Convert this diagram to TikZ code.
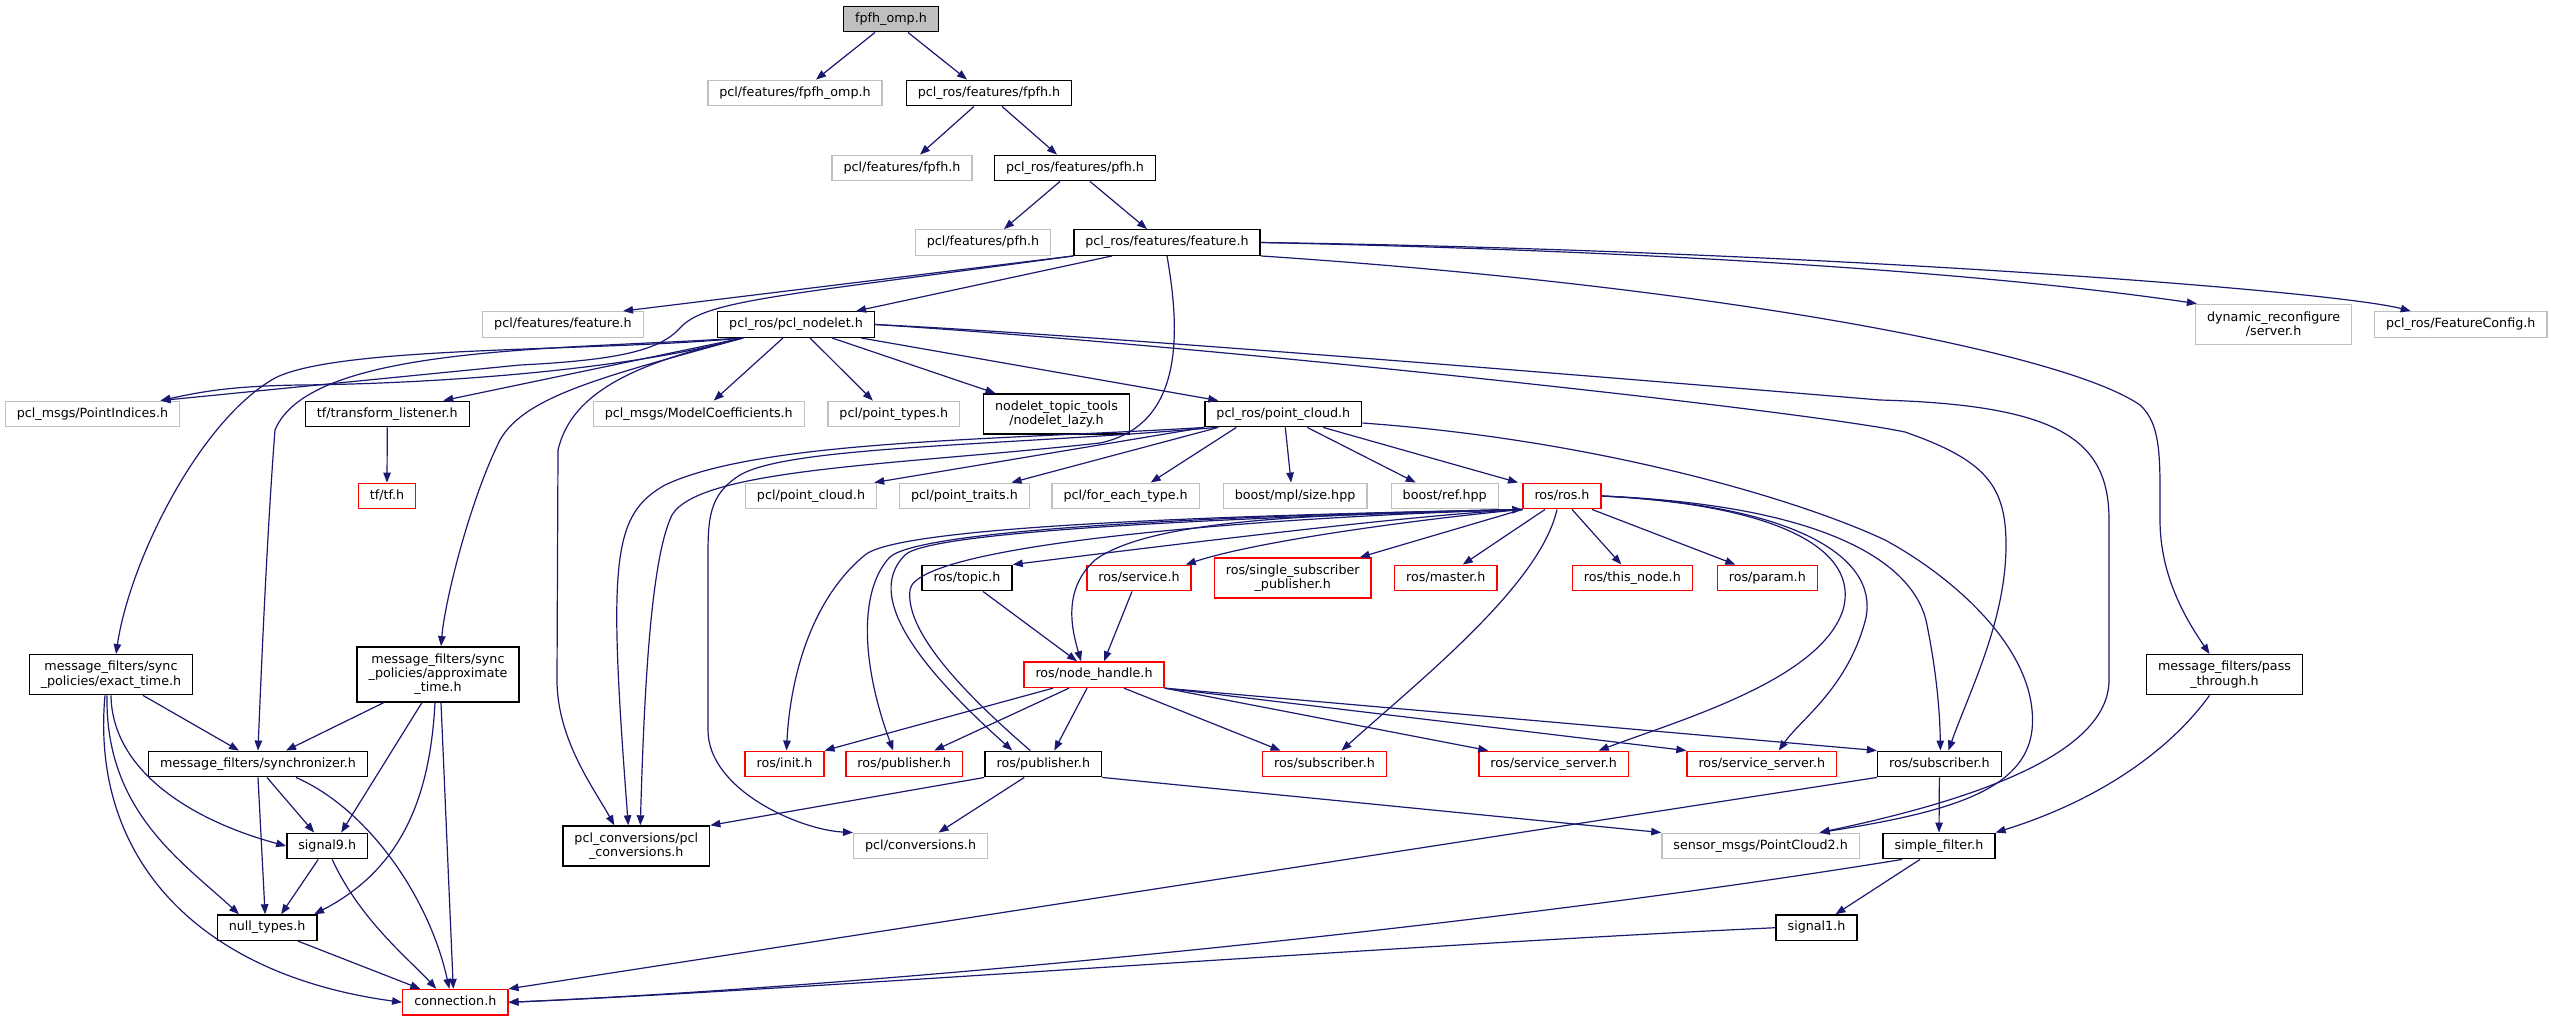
\documentclass[tikz,border=0pt]{standalone}
\usepackage{fontspec}
\setmainfont{DejaVu Sans}
\usetikzlibrary{arrows.meta}
\definecolor{edgec}{HTML}{191970}
\definecolor{grybd}{HTML}{BFBFBF}
\definecolor{rootfill}{HTML}{BFBFBF}
\begin{document}
\begin{tikzpicture}[x=1pt,y=-1pt,
  nb/.style={draw, rectangle, fill=white, line width=1.4pt, inner xsep=11.5pt, inner ysep=0pt,
    minimum height=25.5pt, align=center, font=\fontsize{12.7}{14.3}\selectfont,
    text height=9.4pt, text depth=3pt},
  blkbox/.style={nb, draw=black},
  grybox/.style={nb, draw=grybd},
  redbox/.style={nb, draw=red},
  rootbox/.style={nb, draw=black, fill=rootfill},
  twol/.style={text height=, text depth=, minimum height=40pt},
  threel/.style={text height=, text depth=, minimum height=55pt},
  dep/.style={draw=edgec, line width=1.2pt, -{Triangle[length=10pt,width=7.5pt]}},
]
\useasboundingbox (0,0) rectangle (2551,1021);

% nodes
\node[rootbox] (root) at (891,19) {fpfh\_omp.h};
\node[grybox] (pfomp) at (795,93) {pcl/features/fpfh\_omp.h};
\node[blkbox] (rfpfh) at (989,93) {pcl\_ros/features/fpfh.h};
\node[grybox] (pfpfh) at (902,168) {pcl/features/fpfh.h};
\node[blkbox] (rpfh) at (1075,168) {pcl\_ros/features/pfh.h};
\node[grybox] (ppfh) at (983,242.5) {pcl/features/pfh.h};
\node[blkbox] (feat) at (1167,242.5) {pcl\_ros/features/feature.h};
\node[grybox] (pfeat) at (563,324.5) {pcl/features/feature.h};
\node[blkbox] (nodelet) at (796,324.5) {pcl\_ros/pcl\_nodelet.h};
\node[grybox,twol] (dyn) at (2273.6,324.3) {dynamic\_reconfigure\\/server.h};
\node[grybox] (fconf) at (2460.7,324.5) {pcl\_ros/FeatureConfig.h};
\node[grybox] (pind) at (92.5,414) {pcl\_msgs/PointIndices.h};
\node[blkbox] (tfl) at (387.3,414) {tf/transform\_listener.h};
\node[redbox] (tf) at (387,496) {tf/tf.h};
\node[grybox] (mcoef) at (698.8,414) {pcl\_msgs/ModelCoefficients.h};
\node[grybox] (ptypes) at (893.8,414) {pcl/point\_types.h};
\node[blkbox,twol] (lazy) at (1056.5,414) {nodelet\_topic\_tools\\/nodelet\_lazy.h};
\node[blkbox] (pcr) at (1283.3,414) {pcl\_ros/point\_cloud.h};
\node[grybox] (pcpc) at (811,496) {pcl/point\_cloud.h};
\node[grybox] (ptraits) at (964.5,496) {pcl/point\_traits.h};
\node[grybox] (foreach) at (1125.7,496) {pcl/for\_each\_type.h};
\node[grybox] (mpl) at (1295.1,496) {boost/mpl/size.hpp};
\node[grybox] (bref) at (1444.7,496) {boost/ref.hpp};
\node[redbox] (ros) at (1562,496) {ros/ros.h};
\node[blkbox] (topic) at (967,578) {ros/topic.h};
\node[redbox] (service) at (1139,578) {ros/service.h};
\node[redbox,twol] (ssp) at (1292.7,578) {ros/single\_subscriber\\\_publisher.h};
\node[redbox] (master) at (1445.8,578) {ros/master.h};
\node[redbox] (thisnode) at (1632.3,578) {ros/this\_node.h};
\node[redbox] (param) at (1767.3,578) {ros/param.h};
\node[blkbox,twol] (exact) at (111,674.7) {message\_filters/sync\\\_policies/exact\_time.h};
\node[blkbox,threel] (approx) at (438,674.3) {message\_filters/sync\\\_policies/approximate\\\_time.h};
\node[redbox] (nh) at (1094,674.7) {ros/node\_handle.h};
\node[blkbox,twol] (pass) at (2224.5,674.7) {message\_filters/pass\\\_through.h};
\node[blkbox] (sync) at (258,764) {message\_filters/synchronizer.h};
\node[redbox] (init) at (784.5,764) {ros/init.h};
\node[redbox] (pubr) at (904.2,764) {ros/publisher.h};
\node[blkbox] (pubb) at (1043.3,764) {ros/publisher.h};
\node[redbox] (subr) at (1324.5,764) {ros/subscriber.h};
\node[redbox] (ss1) at (1553.7,764) {ros/service\_server.h};
\node[redbox] (ss2) at (1761.8,764) {ros/service\_server.h};
\node[blkbox] (subb) at (1939.4,764) {ros/subscriber.h};
\node[blkbox] (sig9) at (327.2,846) {signal9.h};
\node[blkbox,twol] (pclconv) at (636.3,846) {pcl\_conversions/pcl\\\_conversions.h};
\node[grybox] (pconv) at (920.6,846) {pcl/conversions.h};
\node[grybox] (pc2) at (1760.6,846) {sensor\_msgs/PointCloud2.h};
\node[blkbox] (sfilt) at (1939,846) {simple\_filter.h};
\node[blkbox] (nullt) at (267.1,927.7) {null\_types.h};
\node[blkbox] (sig1) at (1816.5,927.7) {signal1.h};
\node[redbox] (conn) at (455.3,1002.3) {connection.h};

% top chain
\draw[dep] ([xshift=-16]root.south) -- ([xshift=21]pfomp.north);
\draw[dep] ([xshift=17]root.south) -- ([xshift=-22]rfpfh.north);
\draw[dep] ([xshift=-15]rfpfh.south) -- ([xshift=18]pfpfh.north);
\draw[dep] ([xshift=13]rfpfh.south) -- ([xshift=-18]rpfh.north);
\draw[dep] ([xshift=-15]rpfh.south) -- ([xshift=21]ppfh.north);
\draw[dep] ([xshift=15]rpfh.south) -- ([xshift=-20]feat.north);

% feature.h
\draw[dep] (feat.south west) -- ([xshift=60]pfeat.north);
\draw[dep] ([xshift=-55]feat.south) -- ([xshift=60]nodelet.north);
\draw[dep] (feat.south west) .. controls (780,296) and (705,300) .. (680,328) .. controls (660,350) and (620,360) .. (520,365) -- ([xshift=68]pind.north);
\draw[dep] (feat.east) .. controls (1700,252) and (2000,275) .. ([xshift=2]dyn.north west);
\draw[dep] (feat.east) .. controls (1800,250) and (2330,290) .. ([xshift=-50]fconf.north);
\draw[dep] (feat.south east) .. controls (1700,285) and (2060,350) .. (2140,405) .. controls (2162,425) and (2160,460) .. (2160,520) .. controls (2160,580) and (2190,625) .. ([xshift=-15]pass.north);
\draw[dep] (feat.south) .. controls (1180,330) and (1185,425) .. (1100,443) .. controls (900,465) and (700,468) .. (672,515) .. controls (650,560) and (644,700) .. ([xshift=4]pclconv.north);

% pcl_nodelet.h
\draw[dep] ([xshift=-53]nodelet.south) .. controls (620,372) and (420,384) .. (300,385) .. controls (230,386) and (200,392) .. ([xshift=68]pind.north);
\draw[dep] ([xshift=-53]nodelet.south) -- ([xshift=56]tfl.north);
\draw[dep] ([xshift=-53]nodelet.south) .. controls (600,352) and (340,345) .. (275,378) .. controls (200,420) and (130,560) .. ([xshift=5]exact.north);
\draw[dep] ([xshift=-53]nodelet.south) .. controls (560,350) and (310,345) .. (275,430) .. controls (268,520) and (262,650) .. (sync.north);
\draw[dep] ([xshift=-53]nodelet.south) .. controls (610,375) and (525,395) .. (500,440) .. controls (470,500) and (445,600) .. ([xshift=3]approx.north);
\draw[dep] ([xshift=-53]nodelet.south) .. controls (640,362) and (572,390) .. (558,450) -- (557,680) .. controls (557,740) and (595,790) .. ([xshift=-22]pclconv.north);
\draw[dep] ([xshift=-13]nodelet.south) -- ([xshift=15]mcoef.north);
\draw[dep] ([xshift=14]nodelet.south) -- ([xshift=-21]ptypes.north);
\draw[dep] ([xshift=36]nodelet.south) -- ([xshift=-61]lazy.north);
\draw[dep] ([xshift=65]nodelet.south) -- ([xshift=-65]pcr.north);
\draw[dep] (nodelet.east) .. controls (1100,335) and (1700,385) .. (1880,400) .. controls (2060,405) and (2109,440) .. (2109,520) -- (2109,680) .. controls (2109,760) and (1950,805) .. ([xshift=59]pc2.north);
\draw[dep] (nodelet.east) .. controls (1200,345) and (1800,410) .. (1905,432) .. controls (1985,460) and (2006,485) .. (2006,545) .. controls (2006,620) and (1970,690) .. ([xshift=9]subb.north);

% pcl_ros/point_cloud.h
\draw[dep] (pcr.south west) -- ([xshift=-3]pcpc.north east);
\draw[dep] ([xshift=-65]pcr.south) -- ([xshift=47]ptraits.north);
\draw[dep] ([xshift=-47]pcr.south) -- ([xshift=25]foreach.north);
\draw[dep] ([xshift=2]pcr.south) -- ([xshift=-4]mpl.north);
\draw[dep] ([xshift=24]pcr.south) -- ([xshift=-29]bref.north);
\draw[dep] ([xshift=40]pcr.south) -- ([xshift=-44]ros.north);
\draw[dep] ([yshift=-9]pcr.east) .. controls (1600,440) and (1800,500) .. (1885,540) .. controls (1950,575) and (2040,650) .. (2032,730) .. controls (2025,790) and (1950,812) .. ([xshift=59]pc2.north);
\draw[dep] (pcr.south west) .. controls (1000,440) and (760,440) .. (665,485) .. controls (612,515) and (608,560) .. ([xshift=-8]pclconv.north);
\draw[dep] ([xshift=12]pcr.south west) .. controls (1000,446) and (790,446) .. (740,475) .. controls (708,495) and (708,520) .. (708,560) -- (708,730) .. controls (708,790) and (800,830) .. (pconv.north west);

% ros/ros.h
\draw[dep] (ros.south west) .. controls (1420,515) and (1250,535) .. (topic.north east);
\draw[dep] (ros.south west) .. controls (1430,518) and (1260,540) .. ([xshift=-6]service.north east);
\draw[dep] (ros.south west) -- ([xshift=-12]ssp.north east);
\draw[dep] ([xshift=-17]ros.south) -- ([xshift=17]master.north);
\draw[dep] ([xshift=10]ros.south) -- ([xshift=-11]thisnode.north);
\draw[dep] ([xshift=30]ros.south) -- ([xshift=-32]param.north);
\draw[dep] ([xshift=-5]ros.south) .. controls (1540,585) and (1420,680) .. ([xshift=17]subr.north);
\draw[dep] (ros.east) .. controls (1780,505) and (1860,550) .. (1843,610) .. controls (1820,680) and (1680,720) .. ([xshift=45]ss1.north);
\draw[dep] (ros.east) .. controls (1800,505) and (1885,560) .. (1864,625) .. controls (1845,690) and (1800,720) .. ([xshift=17]ss2.north);
\draw[dep] (ros.east) .. controls (1820,505) and (1915,560) .. (1927,625) .. controls (1938,680) and (1940,720) .. ([xshift=1]subb.north);
\draw[dep] (ros.south west) .. controls (1380,515) and (1160,512) .. (1095,560) .. controls (1062,590) and (1072,630) .. ([xshift=-13]nh.north);
\draw[dep] (ros.south west) .. controls (1250,515) and (900,525) .. (865,555) .. controls (810,600) and (790,680) .. ([xshift=2]init.north);
\draw[dep] (ros.south west) .. controls (1250,515) and (915,528) .. (889,558) .. controls (860,590) and (860,660) .. ([xshift=-11]pubr.north);
\draw[dep] (ros.south west) .. controls (1250,517) and (930,530) .. (905,555) .. controls (870,590) and (900,650) .. ([xshift=-31]pubb.north);
\draw[dep] ([xshift=-13]pubb.north) .. controls (960,690) and (905,630) .. (910,590) .. controls (915,545) and (1250,518) .. (ros.south west);

% node_handle etc.
\draw[dep] ([xshift=16]topic.south) -- ([xshift=-17]nh.north);
\draw[dep] ([xshift=-7]service.south) -- ([xshift=10]nh.north);
\draw[dep] ([xshift=-41]nh.south) -- (init.north east);
\draw[dep] ([xshift=-25]nh.south) -- ([xshift=30]pubr.north);
\draw[dep] ([xshift=-7]nh.south) -- ([xshift=11]pubb.north);
\draw[dep] ([xshift=30]nh.south) -- ([xshift=-44]subr.north);
\draw[dep] (nh.south east) -- ([xshift=10]ss1.north west);
\draw[dep] (nh.south east) -- (ss2.north west);
\draw[dep] (nh.south east) -- (subb.north west);

% publisher (black)
\draw[dep] (pubb.south west) -- (pclconv.north east);
\draw[dep] ([xshift=-19]pubb.south) -- ([xshift=18]pconv.north);
\draw[dep] (pubb.south east) -- (pc2.north west);

% message_filters right
\draw[dep] (subb.south) -- (sfilt.north);
\draw[dep] (subb.south west) -- (conn.north east);
\draw[dep] ([xshift=-37]sfilt.south) .. controls (1500,925) and (900,985) .. (conn.east);
\draw[dep] (sig1.west) .. controls (1400,945) and (800,990) .. (conn.east);
\draw[dep] ([xshift=-19]sfilt.south) -- ([xshift=19]sig1.north);
\draw[dep] ([xshift=-15]pass.south) .. controls (2170,750) and (2100,800) .. (sfilt.north east);

% message_filters left
\draw[dep] ([xshift=32]exact.south) -- ([xshift=-19]sync.north);
\draw[dep] (exact.south) .. controls (112,770) and (190,820) .. (sig9.west);
\draw[dep] ([xshift=-4]exact.south) .. controls (105,810) and (180,860) .. ([xshift=-28]nullt.north);
\draw[dep] ([xshift=-6]exact.south) .. controls (90,860) and (200,975) .. (conn.west);
\draw[dep] ([xshift=-54]approx.south) -- ([xshift=28]sync.north);
\draw[dep] ([xshift=-16]approx.south) -- ([xshift=14]sig9.north);
\draw[dep] ([xshift=-3]approx.south) .. controls (430,800) and (400,870) .. ([xshift=47]nullt.north);
\draw[dep] ([xshift=3]approx.south) -- ([xshift=-2]conn.north);
\draw[dep] ([xshift=9]sync.south) -- ([xshift=-13]sig9.north);
\draw[dep] (sync.south) -- ([xshift=-2]nullt.north);
\draw[dep] ([xshift=38]sync.south) .. controls (370,810) and (430,900) .. ([xshift=-6]conn.north);
\draw[dep] ([xshift=-9]sig9.south) -- ([xshift=14]nullt.north);
\draw[dep] ([xshift=5]sig9.south) .. controls (360,920) and (410,960) .. ([xshift=-19]conn.north);
\draw[dep] ([xshift=31]nullt.south) -- ([xshift=-35]conn.north);
\draw[dep] (tfl.south) -- (tf.north);
\end{tikzpicture}
\end{document}
